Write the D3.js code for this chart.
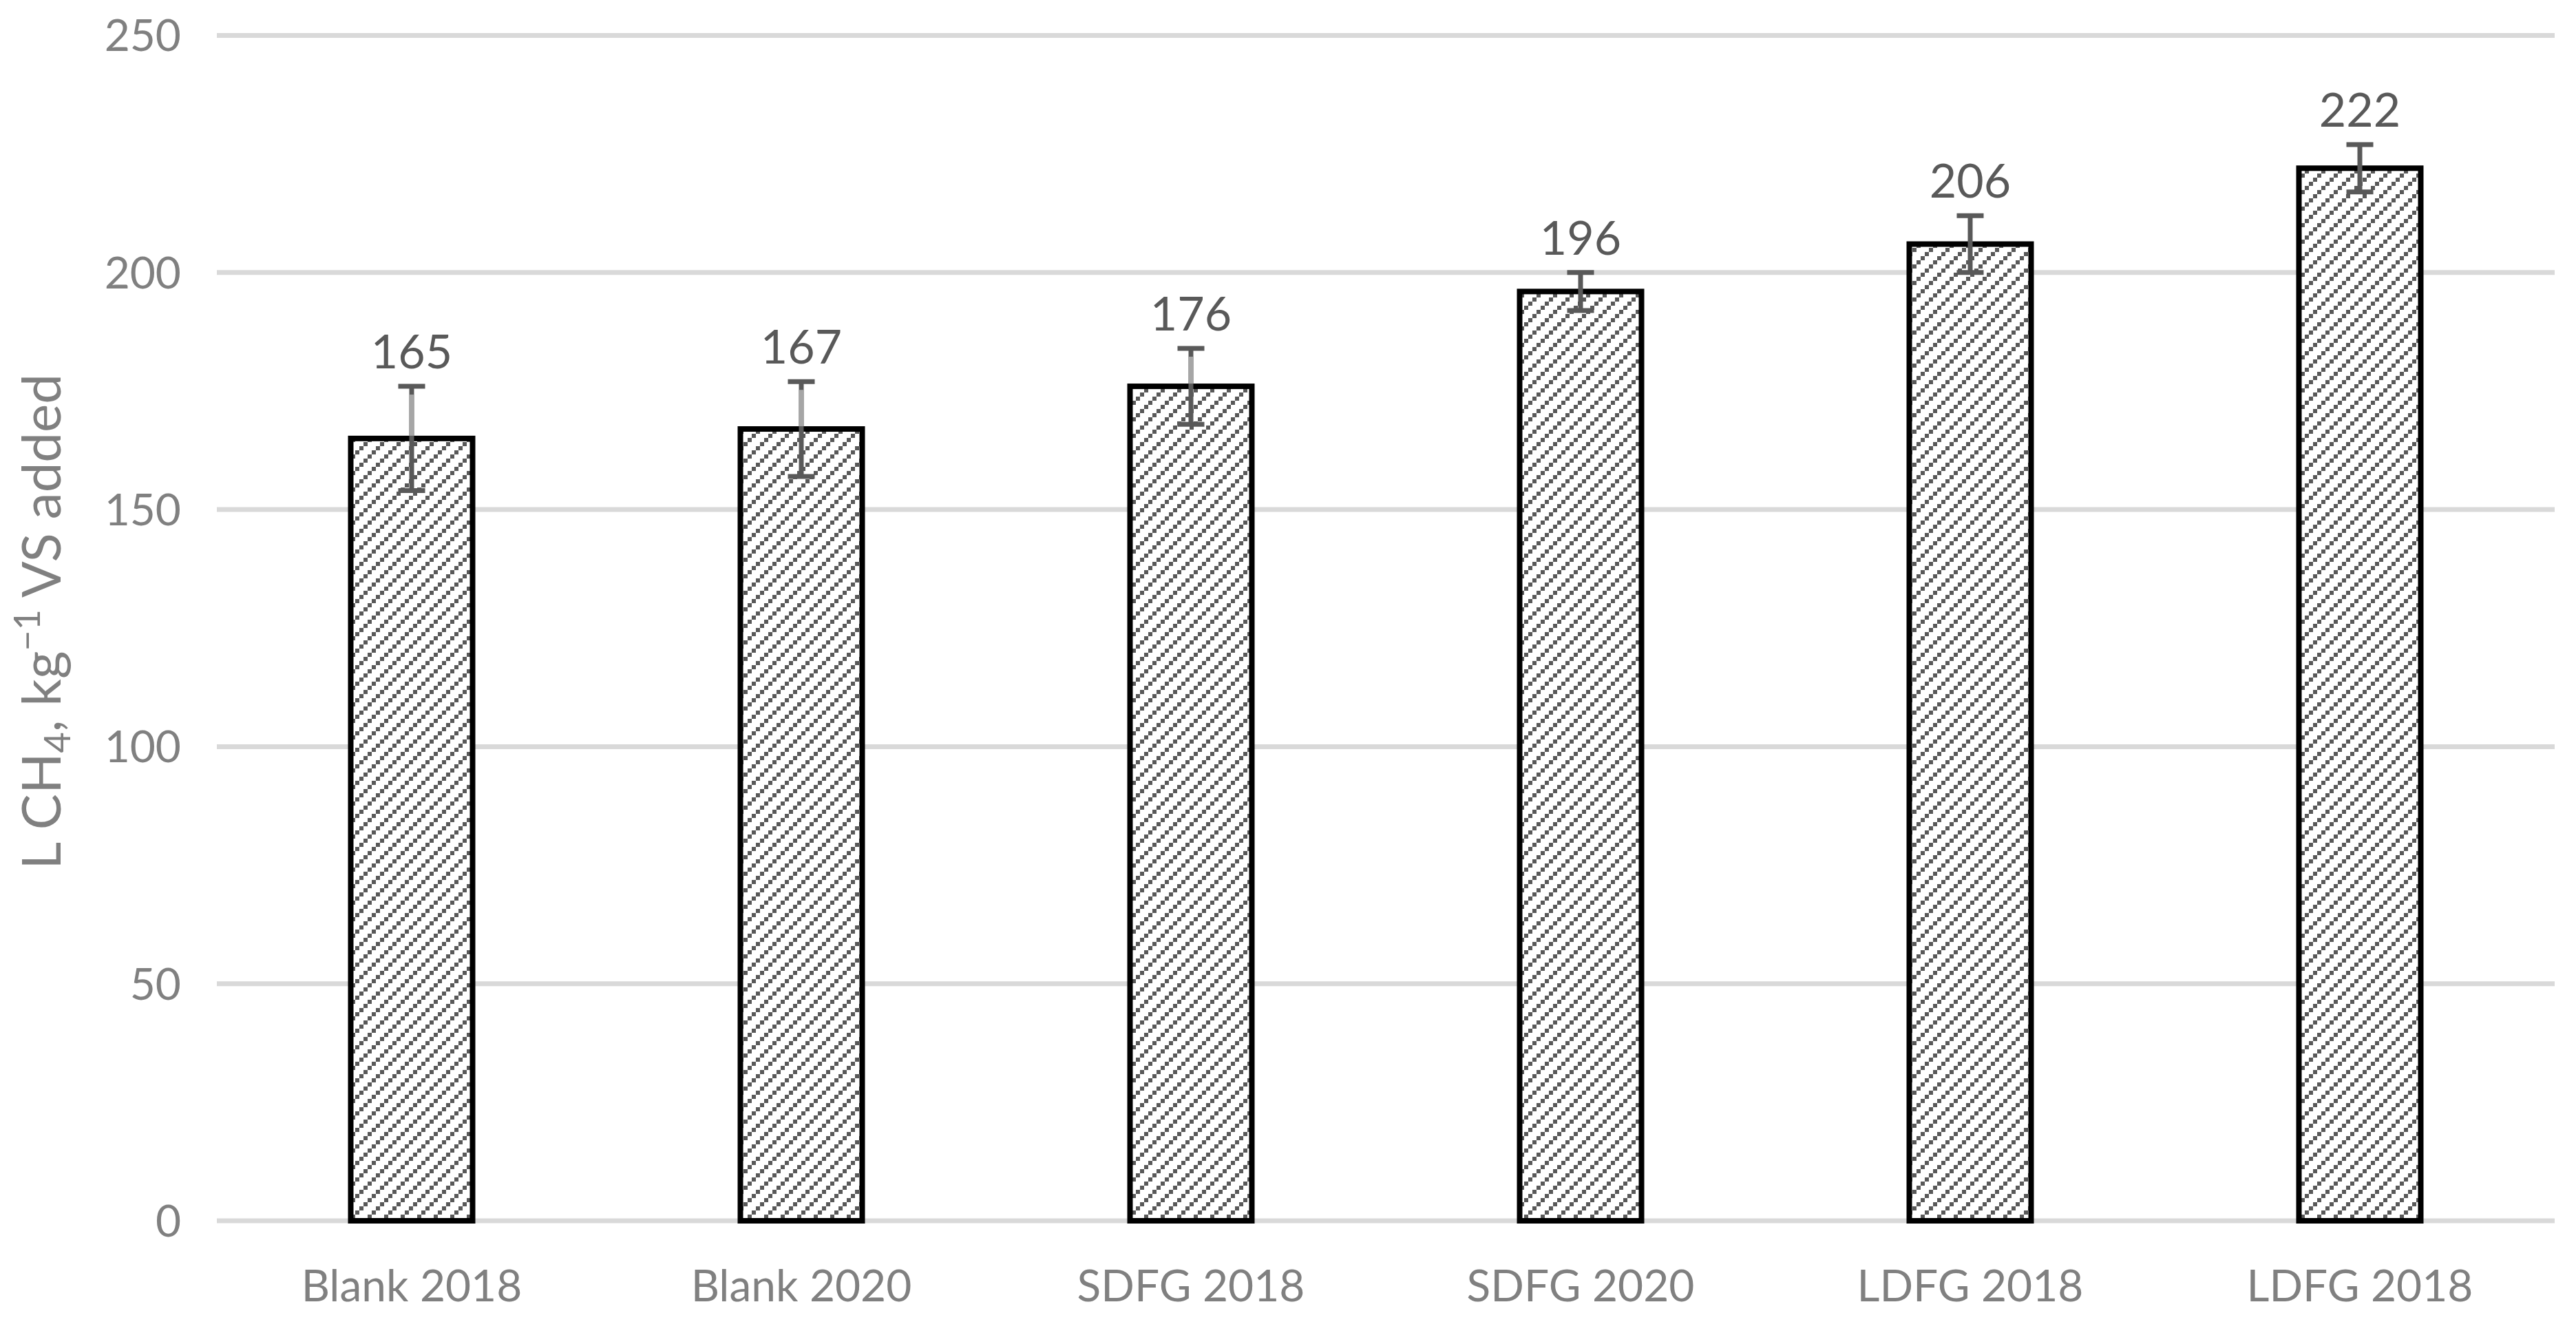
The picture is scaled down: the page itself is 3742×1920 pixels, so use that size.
<!DOCTYPE html>
<html>
<head>
<meta charset="utf-8">
<script src="https://cdn.jsdelivr.net/npm/d3@7"></script>
<style>
  html, body { margin: 0; padding: 0; background: #fff; }
  svg { display: block; }
  text { font-family: Lato, "Open Sans", sans-serif; }
</style>
</head>
<body>
<script>
const categories = ["Blank 2018", "Blank 2020", "SDFG 2018", "SDFG 2020", "LDFG 2018", "LDFG 2018"];
const values = [165, 167, 176, 196, 206, 222];
const errors = [11, 10, 8, 4, 6, 5];
const yTicks = [0, 50, 100, 150, 200, 250];

const W = 3742, H = 1920;
const svg = d3.select("body").append("svg").attr("width", W).attr("height", H);

const x = d3.scaleBand().domain(d3.range(categories.length)).range([315, 3711]).paddingInner(0).paddingOuter(0);
const y = d3.scaleLinear().domain([0, 250]).range([1773, 51.5]);

// hatch pattern
const defs = svg.append("defs");
const pat = defs.append("pattern").attr("id", "hatch").attr("patternUnits", "userSpaceOnUse")
  .attr("width", 24).attr("height", 24);
pat.append("rect").attr("width", 24).attr("height", 24).attr("fill", "#fff");
[0, 1, 2, 3].forEach(i => {
  pat.append("rect").attr("x", i * 6).attr("y", 18 - i * 6).attr("width", 6).attr("height", 6).attr("fill", "#595959");
});

// gridlines
const yAxis = d3.axisLeft(y).tickValues(yTicks).tickSize(0).tickPadding(0);
svg.append("g").selectAll("line").data(yTicks).join("line")
  .attr("x1", 315).attr("x2", 3711)
  .attr("y1", d => y(d)).attr("y2", d => y(d))
  .attr("stroke", "#d9d9d9").attr("stroke-width", 7);

// y tick labels
const ya = svg.append("g").attr("transform", "translate(263,0)").call(yAxis);
ya.select(".domain").remove();
ya.selectAll("text").attr("font-size", 64).attr("fill", "#808080")
  .attr("font-family", "Lato, sans-serif").attr("dy", "0.35em").attr("x", 0);

// x axis labels
const xAxis = d3.axisBottom(x).tickFormat(i => categories[i]).tickSize(0).tickPadding(0);
const xa = svg.append("g").attr("transform", "translate(0,1890)").call(xAxis);
xa.select(".domain").remove();
xa.selectAll("text").attr("font-size", 64).attr("fill", "#808080")
  .attr("font-family", "Lato, sans-serif").attr("dy", 0).attr("y", 0);

const bw = x.bandwidth() * 0.3127;

// bars
svg.append("g").selectAll("rect").data(values).join("rect")
  .attr("x", (d, i) => x(i) + x.bandwidth() / 2 - bw / 2)
  .attr("width", bw)
  .attr("y", d => y(d))
  .attr("height", d => y(0) - y(d))
  .attr("fill", "url(#hatch)")
  .attr("stroke", "#000").attr("stroke-width", 8);

// error bars
const eg = svg.append("g");
values.forEach((v, i) => {
  const cx = x(i) + x.bandwidth() / 2;
  const g = eg.append("g");
  g.append("line").attr("x1", cx).attr("x2", cx)
    .attr("y1", y(v - errors[i])).attr("y2", y(v + errors[i]))
    .attr("stroke", "#595959").attr("stroke-width", 7);
  if (i < 3) {
    g.append("line").attr("x1", cx).attr("x2", cx)
      .attr("y1", y(v) - 4).attr("y2", y(v + errors[i]) + 12)
      .attr("stroke", "#a6a6a6").attr("stroke-width", 7);
  }
  [v - errors[i], v + errors[i]].forEach(e => {
    g.append("line").attr("x1", cx - 19.5).attr("x2", cx + 19.5)
      .attr("y1", y(e)).attr("y2", y(e))
      .attr("stroke", "#595959").attr("stroke-width", 7);
  });
});

// data labels
svg.append("g").selectAll("text").data(values).join("text")
  .attr("x", (d, i) => x(i) + x.bandwidth() / 2)
  .attr("y", (d, i) => y(d + errors[i]) - 26)
  .attr("text-anchor", "middle")
  .attr("font-size", 68).attr("fill", "#595959")
  .text(d => d);

// y title
const yt = svg.append("text")
  .attr("transform", "translate(88,903) rotate(-90)")
  .attr("text-anchor", "middle")
  .attr("font-size", 78).attr("fill", "#808080");
yt.append("tspan").text("L CH");
yt.append("tspan").attr("font-size", 52).attr("dy", 14).text("4");
yt.append("tspan").attr("dy", -14).text(", kg");
yt.append("tspan").attr("font-size", 52).attr("dy", -30).text("−1");
yt.append("tspan").attr("dy", 30).text(" VS added");
</script>
</body>
</html>
